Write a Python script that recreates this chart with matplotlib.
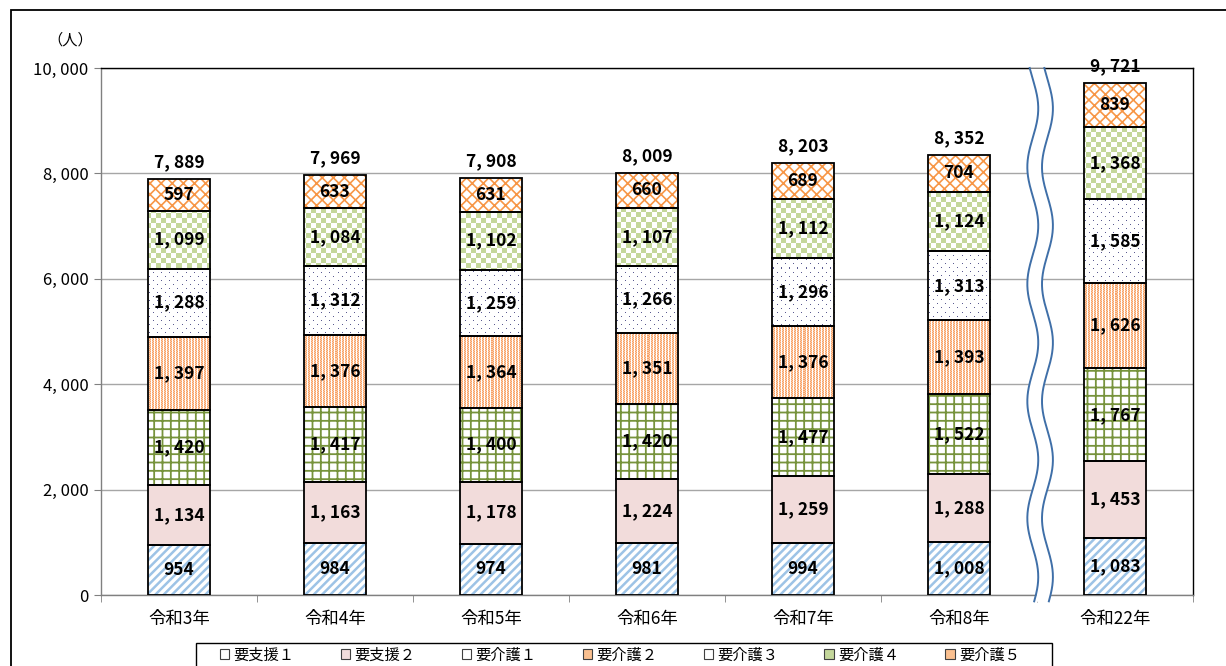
import matplotlib
matplotlib.use("Agg")
import matplotlib.pyplot as plt
import numpy as np
from matplotlib.patches import Rectangle
from matplotlib.colors import to_rgb
from matplotlib.transforms import blended_transform_factory

plt.rcParams['font.family'] = ['Noto Sans CJK JP', 'DejaVu Sans']

categories = ["令和3年", "令和4年", "令和5年", "令和6年", "令和7年", "令和8年", "令和22年"]
series_names = ["要支援１", "要支援２", "要介護１", "要介護２", "要介護３", "要介護４", "要介護５"]
shien1 = [954, 984, 974, 981, 994, 1008, 1083]
shien2 = [1134, 1163, 1178, 1224, 1259, 1288, 1453]
kaigo1 = [1420, 1417, 1400, 1420, 1477, 1522, 1767]
kaigo2 = [1397, 1376, 1364, 1351, 1376, 1393, 1626]
kaigo3 = [1288, 1312, 1259, 1266, 1296, 1313, 1585]
kaigo4 = [1099, 1084, 1102, 1107, 1112, 1124, 1368]
kaigo5 = [597, 633, 631, 660, 689, 704, 839]
totals = [7889, 7969, 7908, 8009, 8203, 8352, 9721]
yticks = [0, 2000, 4000, 6000, 8000, 10000]

series = [shien1, shien2, kaigo1, kaigo2, kaigo3, kaigo4, kaigo5]

W_ = "#FFFFFF"
O_ = "#F8A066"
L_ = "#FBCDA8"
D_ = "#5A5A90"
G_ = "#C4D79B"

tile_kaigo2 = [[O_, L_, W_],
               [L_, O_, W_]]
tile_kaigo3 = [[W_] * 8 for _ in range(8)]
tile_kaigo3[0][0] = D_
tile_kaigo3[4][4] = D_
tile_kaigo4 = [[G_] * 5 + [W_] * 5 for _ in range(5)] + [[W_] * 5 + [G_] * 5 for _ in range(5)]

# style: (facecolor, hatch, hatchcolor, hatch linewidth, texture tile, legend colour)
styles = [
    ("white", "////", "#9DC3E6", 1.8, None, "white"),
    ("#F2DCDB", None, "#F2DCDB", 1.0, None, "#F2DCDB"),
    ("white", "++", "#77933C", 1.3, None, "white"),
    ("white", None, "white", 1.0, tile_kaigo2, "#FAC090"),
    ("white", None, "white", 1.0, tile_kaigo3, "white"),
    ("white", None, "white", 1.0, tile_kaigo4, "#C4D79B"),
    ("white", "xxx", "#F79646", 1.2, None, "#FAC090"),
]

def fmt(v):
    return f"{v:,}".replace(",", ", ")

FIG_W, FIG_H = 1226, 666
fig = plt.figure(figsize=(FIG_W / 100, FIG_H / 100), dpi=100)
ax_rect = [101 / FIG_W, 1 - 595 / FIG_H, (1193 - 101) / FIG_W, (595 - 68) / FIG_H]
ax = fig.add_axes(ax_rect)

x = np.arange(len(categories))
w = 0.40
xlim = (-0.5, len(categories) - 0.5)
ylim = (0, 10000)
ax_px_w = int(round(ax_rect[2] * FIG_W))
ax_px_h = int(round(ax_rect[3] * FIG_H))

def texture(tile):
    arr = np.array([[to_rgb(c) for c in row] for row in tile])
    th, tw = arr.shape[:2]
    reps = (ax_px_h // th + 1, ax_px_w // tw + 1, 1)
    return np.tile(arr, reps)[:ax_px_h, :ax_px_w]

bottom = np.zeros(len(categories))
handles = []
for vals, (fc, hatch, hc, hlw, tile, lc), name in zip(series, styles, series_names):
    vals = np.array(vals)
    with plt.rc_context({'hatch.linewidth': hlw}):
        bars = ax.bar(x, vals, w, bottom=bottom, color=fc, edgecolor=hc, hatch=hatch,
                      linewidth=0, zorder=2)
    if tile is not None:
        img = texture(tile)
        for b in bars:
            im = ax.imshow(img, extent=(xlim[0], xlim[1], ylim[0], ylim[1]),
                           origin="upper", interpolation="nearest", aspect="auto",
                           zorder=2.5)
            im.set_clip_path(b)
    ax.bar(x, vals, w, bottom=bottom, fill=False, edgecolor="black",
           linewidth=1.3, zorder=3)
    handles.append(Rectangle((0, 0), 1, 1, facecolor=lc, edgecolor="#404040", linewidth=0.8))
    for xi, b0, v in zip(x, bottom, vals):
        ax.text(xi, b0 + v / 2, fmt(v), ha="center", va="center",
                fontsize=12.5, fontweight="bold", zorder=5)
    bottom = bottom + vals

for xi, t in zip(x, totals):
    ax.text(xi, t + 150, fmt(t), ha="center", va="bottom", fontsize=12.5,
            fontweight="bold", zorder=5)

ax.set_xlim(*xlim)
ax.set_ylim(*ylim)
ax.set_yticks(yticks)
ax.set_yticklabels([fmt(v) for v in yticks], fontsize=12)
ax.set_xticks(x)
ax.set_xticklabels(categories, fontsize=12.5)
ax.set_xticks(np.arange(-0.5, len(categories), 1), minor=True)
ax.tick_params(axis="x", which="major", length=0, pad=11)
ax.tick_params(axis="x", which="minor", length=5, color="#808080", direction="out")
ax.tick_params(axis="y", length=5, color="#808080", direction="out", pad=4)
ax.yaxis.grid(True, color="#A6A6A6", linewidth=1.0, zorder=0)
ax.set_axisbelow(True)
ax.spines["left"].set_color("#808080")
ax.spines["bottom"].set_color("#808080")
ax.spines["top"].set_color("black")
ax.spines["right"].set_color("black")
for s in ax.spines.values():
    s.set_linewidth(1.0)

# wavy break marks
tr = blended_transform_factory(ax.transData, ax.transAxes)
yy = np.linspace(-0.012, 1.0, 400)
xb = 5.52
amp = 0.035
off = 0.047
wave = amp * np.sin(2 * np.pi * yy * 4.5 + 0.6)
xl = xb - off + wave
xr = xb + off + wave
ax.fill_betweenx(yy, xl, xr, color="white", transform=tr, zorder=4, clip_on=False, linewidth=0)
ax.plot(xl, yy, color="#3F6FA8", linewidth=1.4, transform=tr, zorder=4, clip_on=False)
ax.plot(xr, yy, color="#3F6FA8", linewidth=1.4, transform=tr, zorder=4, clip_on=False)

fig.text(70 / FIG_W, 1 - 40 / FIG_H, "（人）", ha="center", va="center", fontsize=11)

leg = fig.legend(handles, series_names, loc="center left",
                 bbox_to_anchor=(220 / FIG_W, 1 - 655 / FIG_H), ncol=7,
                 fontsize=11, frameon=False, borderaxespad=0, borderpad=0,
                 handlelength=0.6, handleheight=0.6, handletextpad=0.3,
                 columnspacing=3.02)

# legend frame (cut by the figure bottom)
fig.patches.append(Rectangle((196 / FIG_W, -0.05), (1052 - 196) / FIG_W,
                             0.05 + 1 - 643 / FIG_H, transform=fig.transFigure,
                             fill=False, edgecolor="black", linewidth=1.0))

# outer border
fig.patches.append(Rectangle((11 / FIG_W, -0.1), 1.2, 1 - 10 / FIG_H + 0.1,
                             transform=fig.transFigure, fill=False,
                             edgecolor="black", linewidth=1.3))

fig.savefig("out.png", dpi=100)
